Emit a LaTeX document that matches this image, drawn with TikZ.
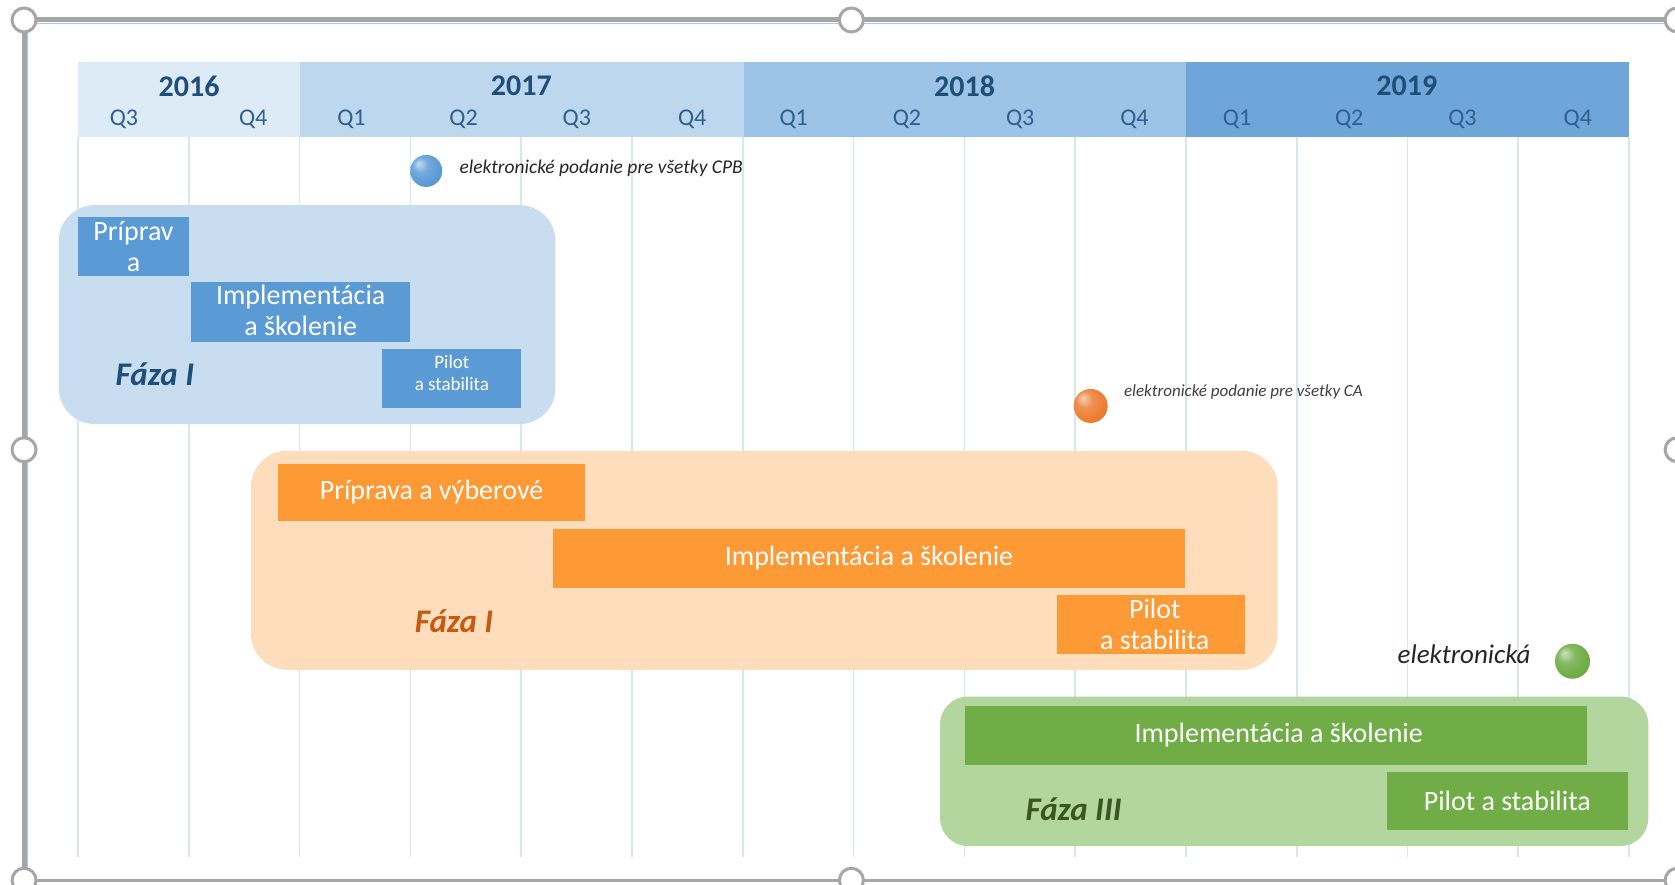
\documentclass[tikz,border=0pt]{standalone}
\usepackage{fontspec}
\setmainfont{Carlito}
\definecolor{hA}{HTML}{DDEBF7}
\definecolor{hB}{HTML}{BDD7EE}
\definecolor{hC}{HTML}{9DC3E6}
\definecolor{hD}{HTML}{6FA6D9}
\definecolor{yeartxt}{HTML}{1F4E79}
\definecolor{qtxt}{HTML}{2F5F8F}
\definecolor{gridc}{HTML}{D6E6F5}
\definecolor{bphase}{HTML}{C9DDF1}
\definecolor{bbar}{HTML}{5B9BD5}
\definecolor{btxt}{HTML}{1F4E79}
\definecolor{ophase}{HTML}{FEDDBD}
\definecolor{obar}{HTML}{FD9A35}
\definecolor{oball}{HTML}{ED7D31}
\definecolor{otxt}{HTML}{C55A11}
\definecolor{gphase}{HTML}{B3D69F}
\definecolor{gbar}{HTML}{70AD47}
\definecolor{gtxt}{HTML}{385723}
\definecolor{framec}{HTML}{A6A6A6}
\definecolor{frameblue}{HTML}{A9CBEB}
\pgfdeclareradialshading{ballB}{\pgfpoint{-12bp}{12bp}}{color(0bp)=(bbar!35!white); color(12bp)=(bbar!85!white); color(26bp)=(bbar); color(40bp)=(bbar!92!black); color(50bp)=(bbar!92!black)}
\pgfdeclareradialshading{ballO}{\pgfpoint{-12bp}{12bp}}{color(0bp)=(oball!35!white); color(12bp)=(oball!85!white); color(26bp)=(oball); color(40bp)=(oball!92!black); color(50bp)=(oball!92!black)}
\pgfdeclareradialshading{ballG}{\pgfpoint{-12bp}{12bp}}{color(0bp)=(gbar!35!white); color(12bp)=(gbar!85!white); color(26bp)=(gbar); color(40bp)=(gbar!92!black); color(50bp)=(gbar!92!black)}
\tikzset{
  year/.style={font=\bfseries\fontsize{30}{32}\selectfont, text=yeartxt, inner sep=0},
  qlab/.style={font=\fontsize{24}{26}\selectfont, text=qtxt, inner sep=0},
  bartext/.style={text=white, font=\fontsize{28}{31}\selectfont, align=center, inner sep=0},
  smallbartext/.style={text=white, font=\fontsize{19}{22.5}\selectfont, align=center, inner sep=0},
  faza/.style={font=\bfseries\itshape\fontsize{33}{35}\selectfont, inner sep=0},
  mstext/.style={font=\itshape, text=black!85, inner sep=0},
  gridline/.style={draw=gridc, line width=1.6pt},
  ball/.style={circle, inner sep=0, minimum size=32pt},
  handle/.style={circle, draw=framec, fill=white, line width=3pt, inner sep=0, minimum size=24pt}
}
\begin{document}
\begin{tikzpicture}[x=1.0683pt,y=-1.0683pt]
\useasboundingbox (0,0) rectangle (1568,828.4);
\fill[white] (0,0) rectangle (1568,828.4);

% header bands
\fill[hA] (73,58.5) rectangle (281,128.5);
\fill[hB] (281,58.5) rectangle (696,128.5);
\fill[hC] (696,58.5) rectangle (1110,128.5);
\fill[hD] (1110,58.5) rectangle (1525,128.5);

% grid
\foreach \i in {0,...,14}
  \draw[gridline] ({73+\i*103.714},128.5) -- ({73+\i*103.714},802);

% years
\node[year] (y16) at (177,80.5) {2016};
\node[year] (y17) at (488,80.5) {2017};
\node[year] (y18) at (903,80.5) {2018};
\node[year] (y19) at (1317,80.5) {2019};

% quarters
\node[qlab] (q1) at (116,112) {Q3};
\node[qlab] (q2) at (237,112) {Q4};
\node[qlab] (q3) at (329,112) {Q1};
\node[qlab] (q4) at (434,112) {Q2};
\node[qlab] (q5) at (540,112) {Q3};
\node[qlab] (q6) at (648,112) {Q4};
\node[qlab] (q7) at (743,112) {Q1};
\node[qlab] (q8) at (849,112) {Q2};
\node[qlab] (q9) at (955,112) {Q3};
\node[qlab] (q10) at (1062,112) {Q4};
\node[qlab] (q11) at (1158,112) {Q1};
\node[qlab] (q12) at (1263,112) {Q2};
\node[qlab] (q13) at (1369,112) {Q3};
\node[qlab] (q14) at (1477,112) {Q4};

% milestones
\node[ball, shading=ballB] (m1) at (399,160) {};
\node[mstext, anchor=west, font=\itshape\fontsize{19.5}{21}\selectfont] (m1t) at (430,158) {elektronické podanie pre všetky CPB};
\node[ball, shading=ballO, minimum size=34pt] (m2) at (1021,380) {};
\node[mstext, anchor=west, font=\itshape\fontsize{17}{19}\selectfont, text=black!75] (m2t) at (1052,367) {elektronické podanie pre všetky CA};
\node[ball, shading=ballG, minimum size=35pt] (m3) at (1472,619) {};
\node[mstext, anchor=east, font=\itshape\fontsize{27}{29}\selectfont] (m3t) at (1433,612) {elektronická};

% phase I (blue)
\fill[bphase, rounded corners=36pt] (55,192) rectangle (520,397);
\fill[bbar] (73,203) rectangle (177,258);
\node[bartext] (b1) at (125,231) {Príprav\\a};
\fill[bbar] (179,264) rectangle (384,320);
\node[bartext] (b2) at (281.5,291) {Implementácia\\a školenie};
\fill[bbar] (358,327) rectangle (488,382);
\node[smallbartext] (b3) at (423,349) {Pilot\\a stabilita};
\node[faza, text=btxt] (bf) at (145,350) {Fáza I};

% phase II (orange)
\fill[ophase, rounded corners=36pt] (235,422) rectangle (1196,627);
\fill[obar] (260,434) rectangle (548,488);
\node[bartext] (o1) at (404,461) {Príprava a výberové};
\fill[obar] (518,495) rectangle (1109,550);
\node[bartext] (o2) at (813.5,522.5) {Implementácia a školenie};
\fill[obar] (989,557) rectangle (1165,612);
\node[bartext] (o3) at (1081,584.5) {Pilot\\a stabilita};
\node[faza, text=otxt] (of) at (425,582) {Fáza I};

% phase III (green)
\fill[gphase, rounded corners=28pt] (880,652) rectangle (1543,792);
\fill[gbar] (903,661) rectangle (1486,716);
\node[bartext] (g1) at (1197,688.5) {Implementácia a školenie};
\fill[gbar] (1298,723) rectangle (1524,777);
\node[bartext] (g2) at (1411,750) {Pilot a stabilita};
\node[faza, text=gtxt] (gf) at (1005,758) {Fáza III};

% selection frame
\draw[frameblue, line width=1.5pt] (25.5,1000) -- (25.5,22) -- (1700,22);
\draw[framec, line width=5pt] (22.5,826) -- (22.5,18.7) -- (1700,18.7);
\draw[framec, line width=3pt] (22.5,824) -- (1700,824);
\node[handle] (h1) at (22.5,18.7) {};
\node[handle] (h2) at (797,18.7) {};
\node[handle] (h3) at (1570,18.7) {};
\node[handle] (h4) at (22.5,421) {};
\node[handle] (h5) at (1570,421) {};
\node[handle] (h6) at (22.5,824) {};
\node[handle] (h7) at (797,824) {};
\node[handle] (h8) at (1570,824) {};
\end{tikzpicture}
\end{document}
